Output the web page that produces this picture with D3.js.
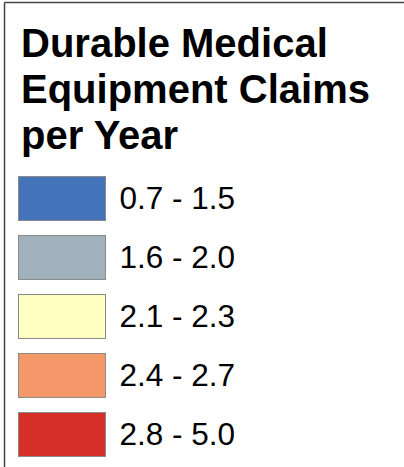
<!DOCTYPE html>
<html>
<head>
<meta charset="utf-8">
<script src="https://cdn.jsdelivr.net/npm/d3@7"></script>
<style>
  html, body { margin: 0; padding: 0; background: #fff; }
  svg { display: block; }
</style>
</head>
<body>
<svg id="chart" width="404" height="467"></svg>
<script>
const titleLines = ["Durable Medical", "Equipment Claims", "per Year"];
const categories = ["0.7 - 1.5", "1.6 - 2.0", "2.1 - 2.3", "2.4 - 2.7", "2.8 - 5.0"];
const colors = ["#4573b9", "#a1b1bb", "#ffffc1", "#f4986a", "#d52f28"];

const W = 404, H = 467;
const svg = d3.select("#chart");

svg.append("rect").attr("width", W).attr("height", H).attr("fill", "#fff");

// frame: top and left lines
svg.append("line").attr("x1", 4.5).attr("x2", W).attr("y1", 2.5).attr("y2", 2.5)
  .attr("stroke", "#444").attr("stroke-width", 1.5);
svg.append("line").attr("x1", 4.5).attr("x2", 4.5).attr("y1", 2.5).attr("y2", H)
  .attr("stroke", "#444").attr("stroke-width", 1.5);

const font = "'Liberation Sans', Arial, Helvetica, sans-serif";

const yTitle = d3.scalePoint().domain(d3.range(titleLines.length)).range([57, 149]);
svg.append("g").selectAll("text").data(titleLines).join("text")
  .attr("x", 21)
  .attr("y", (d, i) => yTitle(i))
  .attr("font-family", font)
  .attr("font-weight", "bold")
  .attr("font-size", 40)
  .attr("fill", "#000")
  .text(d => d);

const y = d3.scaleBand().domain(categories).range([166, 466]).paddingInner(0.255).paddingOuter(0.17);

const items = svg.append("g").selectAll("g").data(categories).join("g")
  .attr("transform", d => `translate(0,${y(d)})`);

items.append("rect")
  .attr("x", 18.5)
  .attr("y", 0.5)
  .attr("width", 87)
  .attr("height", y.bandwidth())
  .attr("fill", (d, i) => colors[i])
  .attr("stroke", "#8a8a8a")
  .attr("stroke-width", 1);

items.append("text")
  .attr("x", 119.5)
  .attr("y", y.bandwidth() / 2 + 11)
  .attr("font-family", font)
  .attr("font-size", 31.5)
  .attr("fill", "#000")
  .text(d => d);
</script>
</body>
</html>
